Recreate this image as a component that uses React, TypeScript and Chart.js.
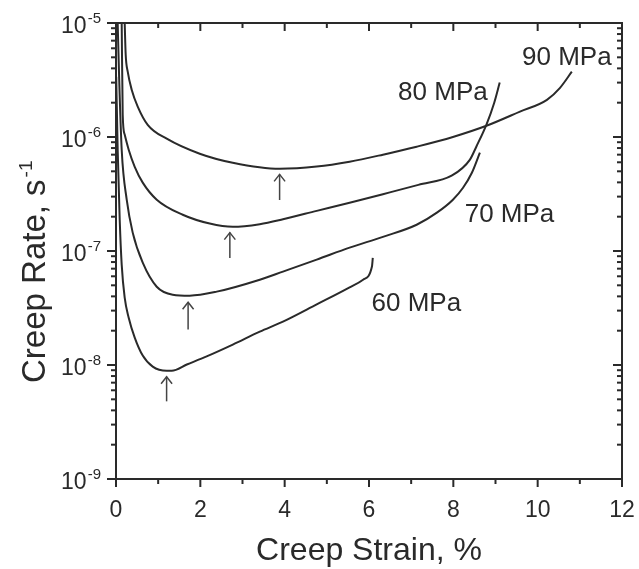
import React, { useEffect, useRef } from "react";
import { Chart, registerables } from "chart.js";

Chart.register(...registerables);

const FONT = '"Liberation Sans", Arial, sans-serif';
const INK = "#2a2a2a";

// 90 MPa
const strain90 = [0.206, 0.23, 0.278, 0.372, 0.515, 0.752, 1.203, 1.986, 2.769, 3.884, 4.76, 5.54, 6.33, 7.13, 7.99, 8.8, 9.58, 10.22, 10.53, 10.81];
const rate90 = [1.0e-5, 5.27e-6, 3.74e-6, 2.6e-6, 1.85e-6, 1.28e-6, 9.66e-7, 7.13e-7, 5.94e-7, 5.26e-7, 5.5e-7, 6.07e-7, 7.0e-7, 8.22e-7, 1.0e-6, 1.26e-6, 1.67e-6, 2.12e-6, 2.7e-6, 3.74e-6];

// 80 MPa
const strain80 = [0.135, 0.159, 0.206, 0.301, 0.444, 0.634, 0.966, 1.583, 2.223, 2.769, 3.41, 3.96, 4.76, 5.54, 6.33, 7.17, 7.97, 8.39, 8.55, 8.79, 8.97, 9.1];
const rate80 = [1.0e-5, 1.57e-6, 1.05e-6, 7.73e-7, 5.48e-7, 3.98e-7, 2.82e-7, 2.08e-7, 1.74e-7, 1.63e-7, 1.72e-7, 1.9e-7, 2.25e-7, 2.65e-7, 3.15e-7, 3.8e-7, 4.6e-7, 6.3e-7, 8.3e-7, 1.3e-6, 2.0e-6, 3.0e-6];

// 70 MPa
const strain70 = [0.04, 0.076, 0.135, 0.254, 0.396, 0.634, 0.966, 1.345, 1.748, 2.389, 3.41, 3.96, 4.76, 5.54, 6.33, 7.13, 7.61, 7.99, 8.23, 8.44, 8.63];
const rate70 = [1.0e-5, 3.18e-6, 7.74e-7, 2.82e-7, 1.45e-7, 7.89e-8, 4.86e-8, 4.14e-8, 4.06e-8, 4.4e-8, 5.6e-8, 6.6e-8, 8.4e-8, 1.07e-7, 1.33e-7, 1.7e-7, 2.17e-7, 2.82e-7, 3.59e-7, 4.86e-7, 7.3e-7];

// 60 MPa
const strain60 = [0.005, 0.04, 0.088, 0.135, 0.206, 0.301, 0.444, 0.634, 0.871, 1.203, 1.321, 1.68, 2.15, 2.77, 3.41, 3.96, 4.76, 5.54, 5.86, 6.07, 6.09];
const rate60 = [3.38e-6, 7.74e-7, 1.88e-7, 7.6e-8, 3.89e-8, 2.6e-8, 1.74e-8, 1.21e-8, 9.67e-9, 8.9e-9, 8.9e-9, 1.01e-8, 1.19e-8, 1.51e-8, 1.96e-8, 2.4e-8, 3.4e-8, 4.8e-8, 5.6e-8, 7.3e-8, 8.7e-8];

// arrows marking minimum creep rate
const arrowStrain = [3.88, 2.7, 1.71, 1.2];
const arrowTip = [4.7e-7, 1.45e-7, 3.55e-8, 7.9e-9];
const arrowTail = [2.8e-7, 8.7e-8, 2.05e-8, 4.8e-9];

// curve labels
const labelText = ["90 MPa", "80 MPa", "70 MPa", "60 MPa"];
const labelStrain = [9.63, 6.69, 8.27, 6.06];
const labelRate = [4.31e-6, 2.12e-6, 1.78e-7, 2.95e-8];

// axes
const xMin = 0;
const xMax = 12;
const yExpMin = -9;
const yExpMax = -5;
const xTitle = "Creep Strain, %";
const yTitle = "Creep Rate, s";
const yTitleSup = "-1";

const zip = (xs: number[], ys: number[]) => xs.map((x, i) => ({ x, y: ys[i] }));

const decorPlugin = {
  id: "decor",
  afterDraw(chart: any) {
    const { ctx, chartArea: a, scales } = chart;
    const xs = scales.x;
    const ys = scales.y;
    ctx.save();
    ctx.strokeStyle = INK;
    ctx.lineWidth = 2;
    const seg = (x1: number, y1: number, x2: number, y2: number) => {
      ctx.beginPath();
      ctx.moveTo(x1, y1);
      ctx.lineTo(x2, y2);
      ctx.stroke();
    };
    // frame
    ctx.strokeRect(a.left, a.top, a.right - a.left, a.bottom - a.top);
    // x ticks (bottom outward, top inward)
    for (let v = xMin; v <= xMax; v++) {
      const major = v % 2 === 0;
      const len = major ? 8 : 5;
      const px = xs.getPixelForValue(v);
      seg(px, a.bottom, px, a.bottom + len);
      seg(px, a.top, px, a.top + len);
    }
    // y ticks (left outward, right inward)
    for (let e = yExpMin; e <= yExpMax; e++) {
      for (let m = 1; m <= 9; m++) {
        if (e === yExpMax && m > 1) break;
        const v = m * Math.pow(10, e);
        const py = ys.getPixelForValue(v);
        const len = m === 1 ? 9 : 5;
        seg(a.left - len, py, a.left, py);
        seg(a.right - len, py, a.right, py);
      }
    }
    // y tick labels 10^n
    ctx.fillStyle = INK;
    ctx.textBaseline = "alphabetic";
    ctx.textAlign = "left";
    for (let e = yExpMin; e <= yExpMax; e++) {
      const py = ys.getPixelForValue(Math.pow(10, e));
      const sup = String(e);
      ctx.font = `15px ${FONT}`;
      const wSup = ctx.measureText(sup).width;
      ctx.font = `23px ${FONT}`;
      const wBase = ctx.measureText("10").width;
      const right = a.left - 15;
      const x0 = right - wSup - wBase - 1;
      ctx.fillText("10", x0, py + 9.5);
      ctx.font = `15px ${FONT}`;
      ctx.fillText(sup, x0 + wBase + 1, py);
    }
    // y title
    ctx.save();
    ctx.translate(45, 383);
    ctx.rotate(-Math.PI / 2);
    ctx.font = `33px ${FONT}`;
    ctx.fillText(yTitle, 0, 0);
    const wt = ctx.measureText(yTitle).width;
    ctx.font = `19px ${FONT}`;
    ctx.fillText(yTitleSup, wt + 2, -13);
    ctx.restore();
    // arrows
    ctx.strokeStyle = "#444";
    ctx.lineWidth = 1.5;
    arrowStrain.forEach((s, i) => {
      const px = xs.getPixelForValue(s);
      const pt = ys.getPixelForValue(arrowTip[i]);
      const pb = ys.getPixelForValue(arrowTail[i]);
      seg(px, pb, px, pt);
      ctx.beginPath();
      ctx.moveTo(px - 5.5, pt + 7);
      ctx.lineTo(px, pt);
      ctx.lineTo(px + 5.5, pt + 7);
      ctx.stroke();
    });
    // curve labels
    ctx.fillStyle = INK;
    ctx.font = `26px ${FONT}`;
    labelText.forEach((t, i) => {
      ctx.fillText(t, xs.getPixelForValue(labelStrain[i]), ys.getPixelForValue(labelRate[i]));
    });
    ctx.restore();
  },
};

export default function App() {
  const ref = useRef<HTMLCanvasElement | null>(null);
  useEffect(() => {
    if (!ref.current) return;
    const mk = (label: string, xs: number[], ys: number[]) => ({
      label,
      data: zip(xs, ys),
      borderColor: INK,
      borderWidth: 2,
      pointRadius: 0,
      fill: false,
      cubicInterpolationMode: "monotone" as const,
    });
    const chart = new Chart(ref.current, {
      type: "line",
      data: {
        datasets: [
          mk("90 MPa", strain90, rate90),
          mk("80 MPa", strain80, rate80),
          mk("70 MPa", strain70, rate70),
          mk("60 MPa", strain60, rate60),
        ],
      },
      options: {
        responsive: false,
        animation: false,
        layout: { padding: { left: 0, top: 23, right: 17, bottom: 0 } },
        plugins: { legend: { display: false }, tooltip: { enabled: false } },
        scales: {
          x: {
            type: "linear",
            min: xMin,
            max: xMax,
            grid: { display: false, drawTicks: true, tickLength: 18 },
            border: { display: false },
            ticks: { stepSize: 2, color: INK, padding: 0, font: { family: FONT, size: 23 } },
            title: {
              display: true,
              text: xTitle,
              color: INK,
              font: { family: FONT, size: 32, lineHeight: 1 },
              padding: { top: 0, bottom: 2 },
            },
            afterFit: (s: any) => {
              s.height = 90;
            },
          },
          y: {
            type: "logarithmic",
            min: Math.pow(10, yExpMin),
            max: Math.pow(10, yExpMax),
            grid: { display: false, drawTicks: false },
            border: { display: false },
            ticks: { display: false },
            afterFit: (s: any) => {
              s.width = 116;
            },
          },
        },
      },
      plugins: [decorPlugin],
    });
    return () => chart.destroy();
  }, []);
  return (
    <div style={{ position: "absolute", left: 0, top: 0, width: 639, height: 569, background: "#fff" }}>
      <canvas ref={ref} width={639} height={569} style={{ display: "block" }} />
    </div>
  );
}
